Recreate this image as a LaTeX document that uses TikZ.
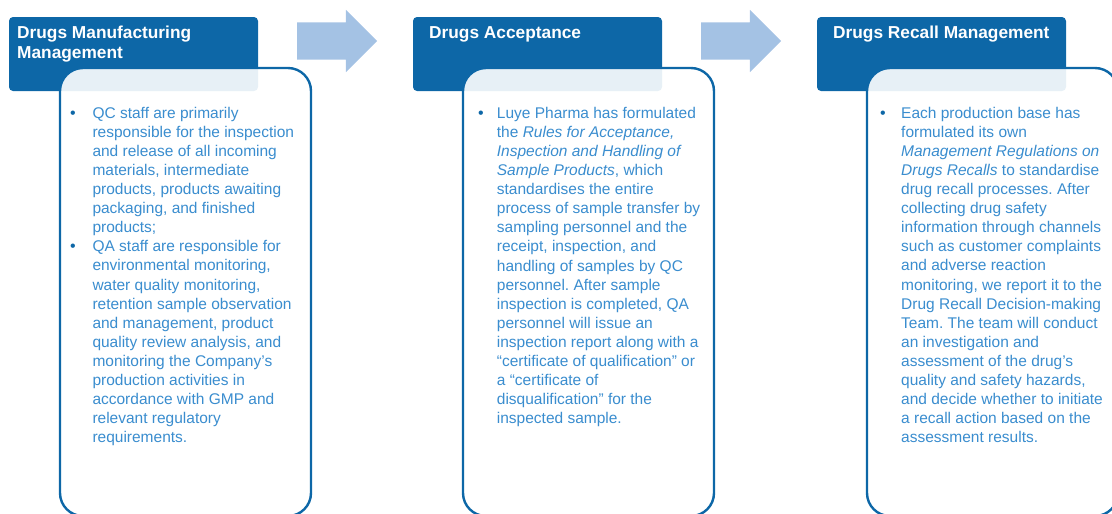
\documentclass[tikz,border=0pt]{standalone}
\usepackage{fontspec}
\setmainfont{Liberation Sans}
\frenchspacing
\usetikzlibrary{shapes.arrows}
\definecolor{luyeblue}{HTML}{0D67A7}
\definecolor{luyetext}{HTML}{3A8DCF}
\definecolor{luyearrow}{HTML}{A4C2E4}
\tikzset{
  headbox/.style={anchor=north west, fill=luyeblue, rounded corners=4pt, minimum width=249pt, minimum height=74pt, inner sep=0pt, outer sep=0pt},
  headtext/.style={anchor=base west, inner sep=0pt, text=white, font=\fontsize{17.3}{20.5}\selectfont\bfseries, align=left},
  card/.style={anchor=north west, draw=luyeblue, line width=2.4pt, fill=white, fill opacity=0.9, rounded corners=23pt, minimum width=251pt, minimum height=448pt, inner sep=0pt, outer sep=0pt},
  bodytext/.style={anchor=base west, inner sep=0pt, text=luyetext, font=\fontsize{15.5}{19.06}\selectfont, align=left},
  bulletmark/.style={anchor=base, inner sep=0pt, text=luyeblue, font=\fontsize{16}{19.06}\selectfont},
  flowarrow/.style={single arrow, fill=luyearrow, anchor=tail, minimum height=80pt, inner xsep=0pt, inner ysep=18.5pt, single arrow head extend=12.5pt, single arrow head indent=0pt, outer sep=0pt}
}
\begin{document}
\begin{tikzpicture}[x=1pt, y=-1pt]
\useasboundingbox (0,0) rectangle (1112,514);
\clip (0,0) rectangle (1112,514);
% headers
\node[headbox] (hdr1) at (9,17){};
\node[headbox] (hdr2) at (413,17){};
\node[headbox] (hdr3) at (817,17){};
% cards
\node[card] (card1) at (60,68){};
\node[card] (card2) at (463,68){};
\node[card] (card3) at (867,68){};
% titles, placed by the baseline of their last line
\node[headtext] (title1) at (17,58.5){Drugs Manufacturing\\Management};
\node[headtext] (title2) at (429,38){Drugs Acceptance};
\node[headtext] (title3) at (833,38){Drugs Recall Management};
% arrows
\node[flowarrow] (arr1) at (297,41){};
\node[flowarrow] (arr2) at (701,41){};
% texts, placed by the baseline of their last line
\node[bulletmark] (dot1) at (73,118.5){•};
\node[bulletmark] (dot2) at (73,251.9){•};
\node[bodytext] (body1) at (92.3,442.5){QC staff are primarily\\
responsible for the inspection\\
and release of all incoming\\
materials, intermediate\\
products, products awaiting\\
packaging, and finished\\
products;\\
QA staff are responsible for\\
environmental monitoring,\\
water quality monitoring,\\
retention sample observation\\
and management, product\\
quality review analysis, and\\
monitoring the Company’s\\
production activities in\\
accordance with GMP and\\
relevant regulatory\\
requirements.};
\node[bulletmark] (dot3) at (481,118.5){•};
\node[bodytext] (body2) at (496.7,423.5){Luye Pharma has formulated\\
the \textit{Rules for Acceptance,}\\
\textit{Inspection and Handling of}\\
\textit{Sample Products}, which\\
standardises the entire\\
process of sample transfer by\\
sampling personnel and the\\
receipt, inspection, and\\
handling of samples by QC\\
personnel. After sample\\
inspection is completed, QA\\
personnel will issue an\\
inspection report along with a\\
“certificate of qualification” or\\
a “certificate of\\
disqualification” for the\\
inspected sample.};
\node[bulletmark] (dot4) at (883,118.5){•};
\node[bodytext] (body3) at (901,442.5){Each production base has\\
formulated its own\\
\textit{Management Regulations on}\\
\textit{Drugs Recalls} to standardise\\
drug recall processes. After\\
collecting drug safety\\
information through channels\\
such as customer complaints\\
and adverse reaction\\
monitoring, we report it to the\\
Drug Recall Decision-making\\
Team. The team will conduct\\
an investigation and\\
assessment of the drug’s\\
quality and safety hazards,\\
and decide whether to initiate\\
a recall action based on the\\
assessment results.};
\end{tikzpicture}
\end{document}
